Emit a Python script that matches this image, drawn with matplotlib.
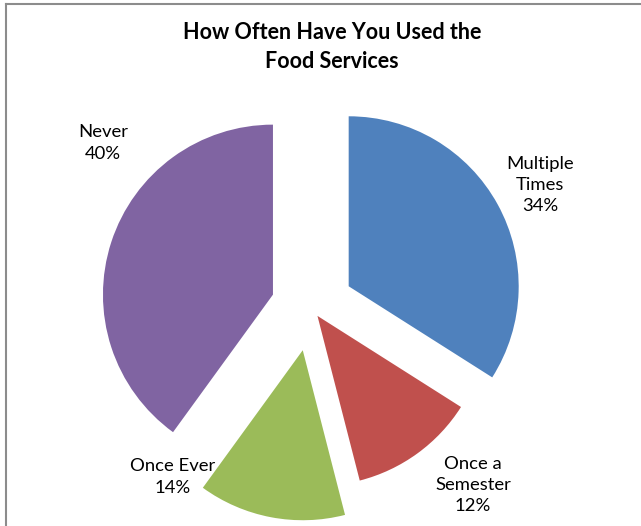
import matplotlib
matplotlib.use("Agg")
import matplotlib.pyplot as plt
from matplotlib.lines import Line2D
import numpy as np

categories = ["Multiple\nTimes", "Once a\nSemester", "Once Ever", "Never"]
values = [34, 12, 14, 40]
colors = ["#4F81BD", "#C0504D", "#9BBB59", "#8064A2"]
explode_px = [43, 11, 44, 40]
title = "How Often Have You Used the\nFood Services"

W, H = 641, 526
fig = plt.figure(figsize=(W / 100, H / 100), dpi=100)
ax = fig.add_axes([0, 0, 1, 1])

cx, cy, R = 311, H - 307, 170
ax.pie(values, colors=colors, startangle=90, counterclock=False,
       center=(cx, cy), radius=R, explode=explode_px,
       wedgeprops=dict(linewidth=0), frame=True)
ax.set_xlim(0, W)
ax.set_ylim(0, H)
ax.set_aspect("equal")
ax.axis("off")

font = "Lato"
# label anchors (pixel offsets from pie center, in data units)
label_pos = [(229, 122), (162, -178), (-138, -170), (-208, 164)]
for cat, v, (dx, dy) in zip(categories, values, label_pos):
    ax.text(cx + dx, cy + dy, f"{cat}\n{v}%", ha="center", va="center",
            fontsize=13.3, family=font, linespacing=1.42, color="black")

fig.text(332 / W, 1 - 47 / H, title, ha="center", va="center",
         fontsize=15.5, fontweight="bold", family=font, linespacing=1.5)

# chart frame (gray)
fig.add_artist(Line2D([6 / W, 6 / W], [0, 1 - 4 / H], transform=fig.transFigure,
                      color="#8c8c8c", lw=1.5))
fig.add_artist(Line2D([6 / W, 1], [1 - 4 / H, 1 - 4 / H], transform=fig.transFigure,
                      color="#8c8c8c", lw=1.5))

fig.savefig("out.png", dpi=100)
